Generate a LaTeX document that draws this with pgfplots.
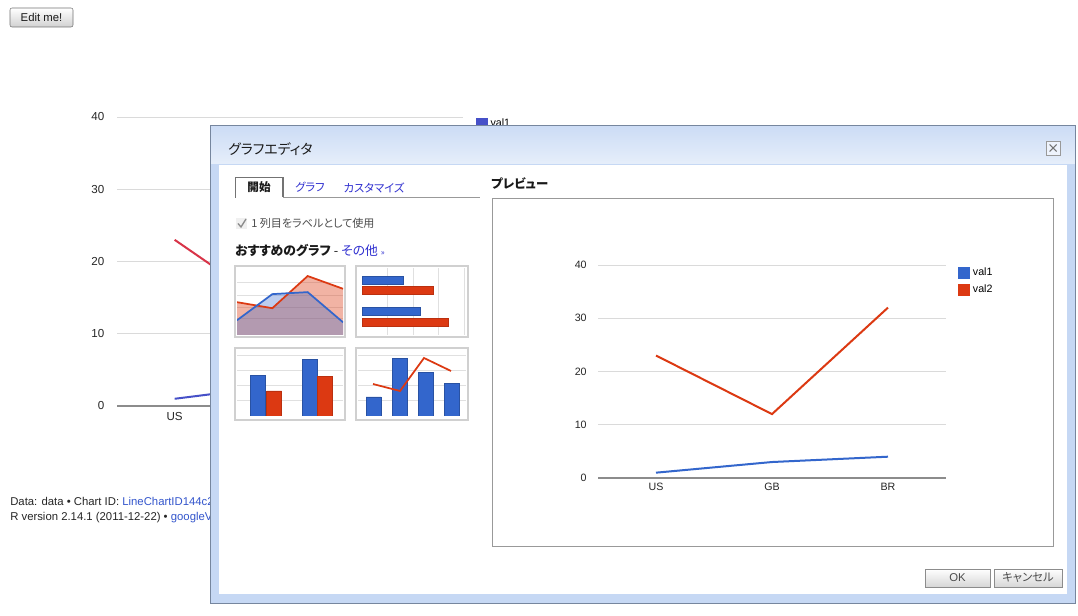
\documentclass[border=0pt]{standalone}
\usepackage{fontspec}
\setmainfont{Liberation Sans}
\newfontfamily\jp[RawFeature=+palt]{Noto Sans CJK JP}
\usepackage{pgfplots}
\pgfplotsset{compat=1.18}

\definecolor{gblue}{HTML}{3366CC}
\definecolor{gred}{HTML}{DC3912}
\definecolor{bgblue}{HTML}{4650C8}
\definecolor{bgred}{HTML}{D83448}
\definecolor{gridc}{HTML}{DADADA}
\definecolor{basec}{HTML}{8C8C8C}
\definecolor{linkc}{HTML}{3355CC}
\definecolor{tabc}{HTML}{3030D0}
\definecolor{framec}{HTML}{C6D8F4}
\definecolor{edgec}{HTML}{76869E}
\definecolor{titletop}{HTML}{CCDCF5}
\definecolor{titlebot}{HTML}{E6EEFA}
\definecolor{thumbc}{HTML}{D0D0D0}

\newcommand\fs[1]{\fontsize{#1}{#1}\selectfont}
\tikzset{px/.style={x=0.75pt,y=-0.75pt}}

\pgfplotsset{
  gchart/.style={
    scale only axis, axis line style={draw=none},
    major tick length=0pt, ymajorgrids, grid style={gridc},
    xmin=-0.5, xmax=2.5, ymin=0, ymax=40,
    xtick={0,1,2}, xticklabels={US,GB,BR}, ytick={0,10,...,40},
    extra y ticks={0}, extra y tick labels={},
    extra y tick style={grid style={basec, line width=0.9pt}},
    /pgf/number format/assume math mode=true,
    tick label style={text=black!85},
    legend cell align=left,
    legend image code/.code={\fill[##1] (0pt,-3.6pt) rectangle (7.5pt,3.6pt);},
  },
  thumb/.style={
    scale only axis, axis line style={draw=none}, major tick length=0pt,
    xticklabels={}, yticklabels={}, grid style={black!12},
  },
}

\begin{document}
\begin{tikzpicture}
% page background and the Edit button
\begin{scope}[px]
\fill[white] (0,0) rectangle (1078,616);
\shade[top color=white, bottom color=black!18, draw=black!55, rounded corners=1.5pt]
  (10,8) rectangle (73,27);
\node[text=black!90] at (41.5,17.5) {\fs{8.5}Edit me!};
\node[anchor=west, inner sep=0, text=black!85] at (10,501.5)
  {\fs{8.5}Data: data \textbullet\ Chart ID: \textcolor{linkc}{LineChartID144c2b3c}};
\node[anchor=west, inner sep=0, text=black!85] at (10,518)
  {\fs{8.5}R version 2.14.1 (2011-12-22) \textbullet\ \textcolor{linkc}{googleVis-0.2.13}};
\end{scope}

% chart on the page, behind the dialog
\begin{axis}[gchart, width=259.5pt, height=216.75pt,
  at={({0.75*117pt},{-0.75*406pt})}, anchor=south west,
  tick label style={font=\fs{8.7}}, yticklabel style={xshift=-6pt},
  xticklabel style={yshift=-1pt},
  legend style={draw=none, fill=none, at={(1,1)}, anchor=north west,
    xshift=6.5pt, yshift=3pt, font=\fs{8}, row sep=3pt}]
\addplot[bgblue, line width=1.5pt] coordinates {(0,1) (1,3) (2,4)};
\addlegendentry{val1}
\addplot[bgred, line width=1.5pt] coordinates {(0,23) (1,12) (2,32)};
\addlegendentry{val2}
\end{axis}

% dialog
\begin{scope}[px]
\fill[framec] (210,125) rectangle (1076,604);
\shade[top color=titletop, bottom color=titlebot] (211,126) rectangle (1075,164);
\fill[white] (219,165) rectangle (1067,594);
\draw[edgec, line width=0.75pt] (210.5,125.5) rectangle (1075.5,603.5);
\node[anchor=west, inner sep=0, text=black!90] at (228,149) {\jp\fs{10.4}グラフエディタ};
\draw[black!40, fill=white!70!framec] (1046,141) rectangle (1060,155);
\draw[black!55, line width=0.8pt] (1049.5,144.5) -- (1056.5,151.5) (1049.5,151.5) -- (1056.5,144.5);
% tabs
\draw[black!40] (283,197.5) -- (480,197.5);
\draw[black!55, line width=0.9pt] (235.5,198) |- (283,177.5) -- (283,197.5);
\node[text=black!90] at (259,187.5) {\jp\bfseries\fs{8.7}開始};
\node[text=tabc] at (310,187.5) {\jp\fs{8.5}グラフ};
\node[text=tabc] at (374,187.5) {\jp\fs{8.5}カスタマイズ};
% check box row
\fill[black!6] (236,218) rectangle (247,229);
\draw[black!45, line width=1pt] (238,223.5) -- (241,227) -- (246,219);
\node[anchor=west, inner sep=0, text=black!70] at (251,223.5) {\jp\fs{8.3}1 列目をラベルとして使用};
\node[anchor=west, inner sep=0, text=black!90] at (235,251)
  {\jp\fs{9.6}{\bfseries おすすめのグラフ} - \textcolor{tabc}{その他 {\fs{6}»}}};
% thumbnail frames
\draw[thumbc, line width=2pt] (235,266) rectangle (345,337);
\draw[thumbc, line width=2pt] (356,266) rectangle (468,337);
\draw[thumbc, line width=2pt] (235,348) rectangle (345,420);
\draw[thumbc, line width=2pt] (356,348) rectangle (468,420);
% preview
\node[anchor=west, inner sep=0, text=black!90] at (491,184) {\jp\bfseries\fs{9.3}プレビュー};
\draw[black!40, line width=0.75pt] (492.5,198.5) rectangle (1053.5,546.5);
% buttons
\shade[top color=white, bottom color=black!16, draw=black!45] (925,569) rectangle (990,587);
\node[text=black!70] at (957.5,578) {\fs{8.5}OK};
\shade[top color=white, bottom color=black!16, draw=black!45] (994,569) rectangle (1062,587);
\node[text=black!70] at (1028,578) {\jp\fs{8.5}キャンセル};
\end{scope}

% thumbnail: area chart
\begin{axis}[thumb, width=79.5pt, height=50.25pt,
  at={({0.75*237pt},{-0.75*335pt})}, anchor=south west,
  xmin=0, xmax=3, ymin=0, ymax=10, xtick=\empty, ytick={2.5,4.2,6,7.8}, ymajorgrids]
\addplot[draw=none, fill=gred, fill opacity=0.38] coordinates {(0,4.9) (1,4.0) (2,8.8) (3,6.9)} \closedcycle;
\addplot[draw=none, fill=gblue, fill opacity=0.32] coordinates {(0,2.2) (1,6.1) (2,6.4) (3,1.9)} \closedcycle;
\addplot[gred, line width=1.3pt] coordinates {(0,4.9) (1,4.0) (2,8.8) (3,6.9)};
\addplot[gblue, line width=1.3pt] coordinates {(0,2.2) (1,6.1) (2,6.4) (3,1.9)};
\end{axis}

% thumbnail: bar chart
\begin{axis}[thumb, width=78pt, height=50.25pt,
  at={({0.75*362pt},{-0.75*335pt})}, anchor=south west,
  xmin=0, xmax=4.08, ymin=0, ymax=67, xtick={1,2,3,4}, ytick=\empty, xmajorgrids,
  xbar, bar width=8, bar shift=0pt]
\addplot[fill=gblue, draw=gblue!80!black] coordinates {(1.6,55) (2.3,23.5)};
\addplot[fill=gred, draw=gred!85!black] coordinates {(2.8,45) (3.4,12.5)};
\end{axis}

% thumbnail: column chart
\begin{axis}[thumb, width=79.5pt, height=49.5pt,
  at={({0.75*237pt},{-0.75*416pt})}, anchor=south west,
  xmin=0, xmax=106, ymin=0, ymax=66, xtick=\empty, ytick={16,31,46,61}, ymajorgrids,
  ybar, bar width=15, bar shift=0pt]
\addplot[fill=gblue, draw=gblue!80!black] coordinates {(20.5,41) (72.5,57)};
\addplot[fill=gred, draw=gred!85!black] coordinates {(37,25) (87.5,40)};
\end{axis}

% thumbnail: combo chart
\begin{axis}[thumb, width=81pt, height=49.5pt,
  at={({0.75*358pt},{-0.75*416pt})}, anchor=south west,
  xmin=0, xmax=108, ymin=0, ymax=66, xtick=\empty, ytick={16,31,46,61}, ymajorgrids]
\addplot[ybar, bar width=15, bar shift=0pt, fill=gblue, draw=gblue!80!black]
  coordinates {(15.5,19) (42,58) (67.5,44) (93.5,33)};
\addplot[gred, line width=1.3pt] coordinates {(15,32) (42,25) (66,58) (93,45)};
\end{axis}

% preview chart
\begin{axis}[gchart, width=261pt, height=159.75pt,
  at={({0.75*598pt},{-0.75*478pt})}, anchor=south west,
  tick label style={font=\fs{8}}, yticklabel style={xshift=-5pt},
  legend style={draw=none, fill=none, at={(1,1)}, anchor=north west,
    xshift=6pt, yshift=2pt, font=\fs{8}, row sep=1.5pt}]
\addplot[gblue, line width=1.5pt] coordinates {(0,1) (1,3) (2,4)};
\addlegendentry{val1}
\addplot[gred, line width=1.5pt] coordinates {(0,23) (1,12) (2,32)};
\addlegendentry{val2}
\end{axis}
\end{tikzpicture}
\end{document}
